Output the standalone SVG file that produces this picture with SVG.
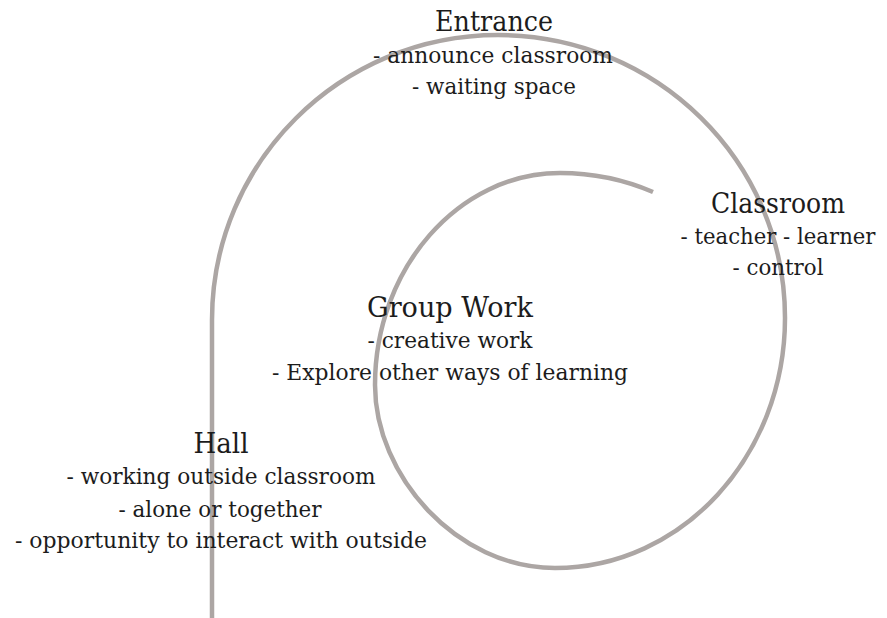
<svg xmlns="http://www.w3.org/2000/svg" width="887" height="618" viewBox="0 0 887 618">
<style>
.spiral{fill:none;stroke:#aca6a4;stroke-width:4.5;stroke-linecap:butt}
text{font-family:"DejaVu Serif","Liberation Serif",serif;fill:#1c1c1c;text-anchor:middle}
.t{font-size:27px}
.b{font-size:22px}
</style>
<rect width="887" height="618" fill="#ffffff"/>
<g id="connectors">
<path class="spiral" d="M212,618 L212,320 C212,162.6 340,35 498,35 C656,35 785,161 785,318 C785,456 682,568 555,568 C457,568 375,476 375,385 C375,268 459,173 560,173 C595,173 625,180 653,192"/>
</g>
<g id="entrance">
<text class="t" x="494" y="31" textLength="118" lengthAdjust="spacingAndGlyphs">Entrance</text>
<text class="b" x="493" y="63" textLength="240" lengthAdjust="spacingAndGlyphs">- announce classroom</text>
<text class="b" x="494" y="94" textLength="164" lengthAdjust="spacingAndGlyphs">- waiting space</text>
</g>
<g id="classroom">
<text class="t" x="778" y="213" textLength="134" lengthAdjust="spacingAndGlyphs">Classroom</text>
<text class="b" x="778" y="244" textLength="195" lengthAdjust="spacingAndGlyphs">- teacher - learner</text>
<text class="b" x="778" y="275" textLength="91" lengthAdjust="spacingAndGlyphs">- control</text>
</g>
<g id="groupwork">
<text class="t" x="450" y="317" textLength="166" lengthAdjust="spacingAndGlyphs">Group Work</text>
<text class="b" x="450" y="348" textLength="165" lengthAdjust="spacingAndGlyphs">- creative work</text>
<text class="b" x="450" y="380" textLength="356" lengthAdjust="spacingAndGlyphs">- Explore other ways of learning</text>
</g>
<g id="hall">
<text class="t" x="221" y="453" textLength="55" lengthAdjust="spacingAndGlyphs">Hall</text>
<text class="b" x="221" y="484" textLength="309" lengthAdjust="spacingAndGlyphs">- working outside classroom</text>
<text class="b" x="220" y="517" textLength="203" lengthAdjust="spacingAndGlyphs">- alone or together</text>
<text class="b" x="221" y="548" textLength="412" lengthAdjust="spacingAndGlyphs">- opportunity to interact with outside</text>
</g>
</svg>
